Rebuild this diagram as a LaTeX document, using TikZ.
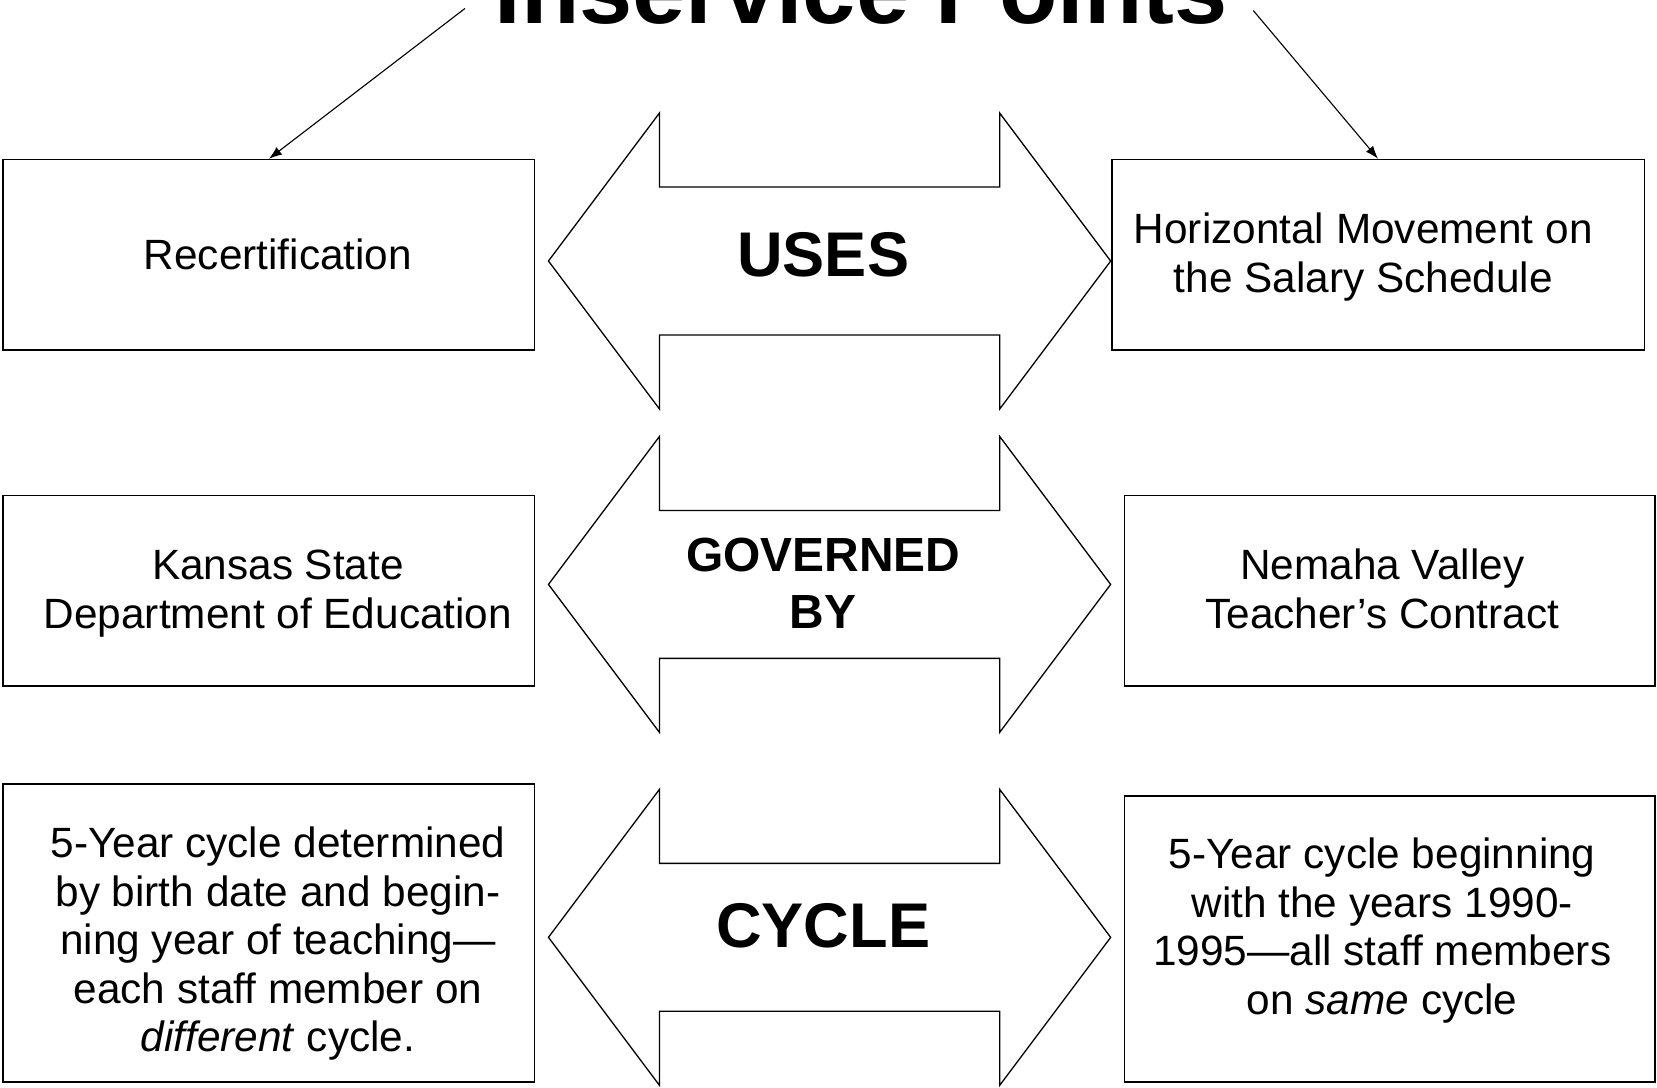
\documentclass[tikz,border=0pt]{standalone}
\usepackage{fontspec}
\setmainfont{Liberation Sans}
\usetikzlibrary{arrows.meta}
\tikzset{
  box/.style={draw, line width=0.85pt, rectangle, inner sep=0pt, minimum width=10.06cm},
  boxtext/.style={align=center, inner sep=0pt, font={\fontsize{22.8pt}{26.2pt}\selectfont}},
  bigword/.style={font={\bfseries\fontsize{34pt}{38pt}\selectfont}},
  pointer/.style={line width=0.6pt, -{Latex[length=7pt,width=5pt]}}
}
\begin{document}
\begin{tikzpicture}[x=0.02cm,y=-0.02cm]
  \useasboundingbox (0,0) rectangle (1568,1029);

  % title, cut at the top
  \node[anchor=base, inner sep=0pt, font={\bfseries\fontsize{51.5pt}{56pt}\selectfont}] (title) at (815,22) {Inservice Points};
  \coordinate (tl) at (440,8);
  \coordinate (tr) at (1186,10);

  % left column
  \node[box, minimum height=3.6cm] (recert) at (254.5,241) {};
  \node[boxtext] (recert-t) at ([xshift=8.5*0.02cm]recert.center) {Recertification};
  \node[box, minimum height=3.6cm] (ksde) at (254.5,559) {};
  \node[boxtext] (ksde-t) at ([shift={(8.5,2.5)}]ksde.center) {Kansas State\\Department of Education};
  \node[box, minimum height=5.64cm] (kcycle) at (254.5,883) {};
  \node[boxtext] (kcycle-t) at ([shift={(8.5,10)}]kcycle.center)
    {5-Year cycle determined\\by birth date and begin-\\ning year of teaching—\\each staff member on\\\emph{different} cycle.};

  % right column
  \node[box, minimum width=10.08cm, minimum height=3.6cm] (salary) at (1304,241) {};
  \node[boxtext] (salary-t) at ([shift={(-14,2)}]salary.center) {Horizontal Movement on\\the Salary Schedule};
  \node[box, minimum width=10.04cm, minimum height=3.6cm] (contract) at (1315,559) {};
  \node[boxtext] (contract-t) at ([shift={(-7,-2)}]contract.center) {Nemaha Valley\\Teacher’s Contract};
  \node[box, minimum width=10.04cm, minimum height=5.42cm] (ncycle) at (1315,888.5) {};
  \node[boxtext] (ncycle-t) at ([shift={(-7,-8)}]ncycle.center)
    {5-Year cycle beginning\\with the years 1990-\\1995—all staff members\\on \emph{same} cycle};

  \draw[pointer] (tl) -- (recert.north);
  \draw[pointer] (tr) -- (salary.north);

  % double arrows in the middle
  \foreach \cy in {247,553,887} {
    \begin{scope}[shift={(785,\cy)}]
      \draw[line width=0.7pt] (-266,0) -- (-161,-140) -- (-161,-70) -- (161,-70) -- (161,-140) --
        (266,0) -- (161,140) -- (161,70) -- (-161,70) -- (-161,140) -- cycle;
    \end{scope}
  }
  \node[bigword] (uses) at (779,241) {USES};
  \node[align=center, font={\bfseries\fontsize{25.8pt}{30.7pt}\selectfont}] (governed) at (779,552) {GOVERNED\\BY};
  \node[bigword] (cyclew) at (779,876) {CYCLE};
\end{tikzpicture}
\end{document}
